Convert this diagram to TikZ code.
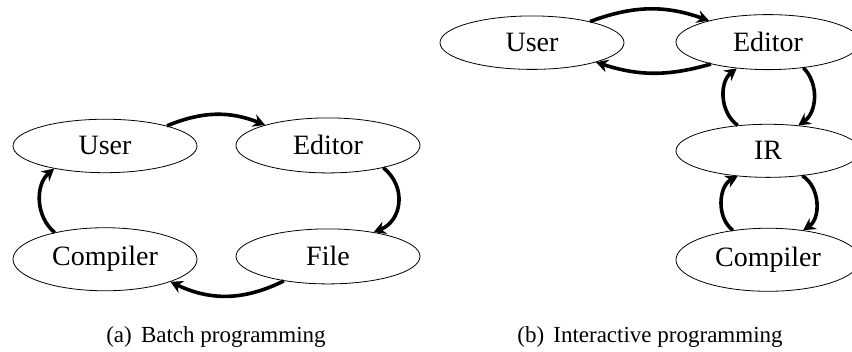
\documentclass[tikz,border=0pt]{standalone}
\usepackage{fontspec}
\setmainfont{Liberation Serif}
\usetikzlibrary{shapes.geometric,arrows.meta}
\tikzset{
  stage/.style={ellipse, draw, line width=0.8pt, inner sep=9.6pt, minimum width=184pt,
    anchor=base, font=\fontsize{28}{32}\selectfont},
  flow/.style={line width=3.6pt, -{Stealth[length=12pt,width=13pt,inset=4pt]}},
  caption/.style={anchor=base, font=\fontsize{23}{27}\selectfont}
}
\begin{document}
\begin{tikzpicture}[x=1pt,y=1pt]
\useasboundingbox (0,0) rectangle (852,352);
% (a) batch programming
\node[stage] (u1) at (105,197) {User};
\node[stage] (e1) at (328,197) {Editor};
\node[stage] (c1) at (105,86) {Compiler};
\node[stage] (f1) at (328,86) {File};
\draw[flow] (u1.18) to[bend left=22] (e1.162);
\draw[flow] (e1.-22) to[bend left=60, looseness=1.2] (f1.28);
\draw[flow] (f1.209) to[bend left=26] (c1.341);
\draw[flow] (c1.152) to[bend left=50] (u1.204);
\node[caption] (capa) at (216,9.5) {(a)\hspace{0.4em}Batch programming};
% (b) interactive programming
\node[stage] (u2) at (532,300.3) {User};
\node[stage] (e2) at (768,300.3) {Editor};
\node[stage] (ir) at (768,192) {IR};
\node[stage] (c2) at (768,85.5) {Compiler};
\draw[flow] (u2.20) to[bend left=20] (e2.160);
\draw[flow] (e2.201) to[bend left=17] (u2.-17);
\draw[flow] (e2.-36) to[bend left=50] (ir.40);
\draw[flow] (ir.140) to[bend left=53] (e2.220);
\draw[flow] (ir.-36) to[bend left=57] (c2.40);
\draw[flow] (c2.140) to[bend left=58] (ir.220);
\node[caption] (capb) at (650,9.5) {(b)\hspace{0.4em}Interactive programming};
\end{tikzpicture}
\end{document}
